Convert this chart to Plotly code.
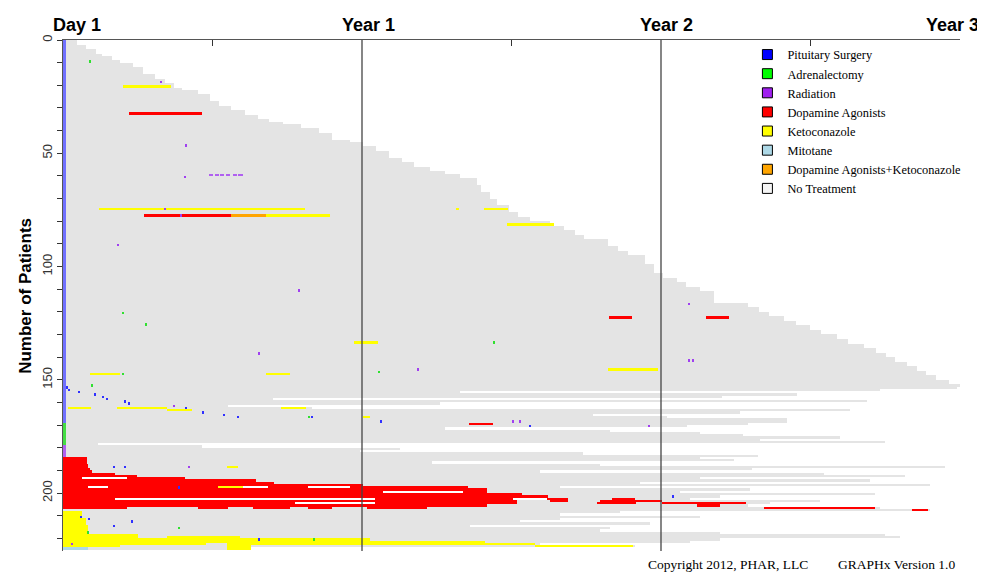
import plotly.graph_objects as go

# ---------------- data ----------------
# follow-up length (days) of each patient, row 0 at the top
followup_days = [
    17, 17, 28, 28, 40, 40, 48, 60, 60, 70,
    86, 86, 98, 98, 98, 112, 112, 125, 125, 135,
    135, 145, 165, 165, 180, 180, 180, 190, 190, 205,
    205, 222, 222, 238, 238, 252, 268, 290, 290, 312,
    312, 328, 328, 328, 350, 366, 366, 382, 382, 398,
    398, 398, 414, 414, 428, 428, 448, 448, 466, 485,
    485, 505, 505, 505, 510, 510, 510, 521, 521, 521,
    530, 530, 530, 544, 544, 544, 555, 555, 570, 570,
    595, 595, 612, 612, 625, 625, 636, 636, 665, 665,
    665, 677, 677, 690, 690, 710, 710, 710, 710, 722,
    722, 722, 722, 733, 733, 750, 750, 760, 760, 777,
    777, 795, 795, 795, 795, 795, 836, 836, 850, 850,
    862, 862, 880, 880, 895, 895, 912, 912, 925, 925,
    945, 945, 958, 958, 978, 978, 992, 992, 1005, 1005,
    1016, 1016, 1030, 1030, 1042, 1042, 1054, 1054, 1066, 1066,
    1082, 1082, 1095, 1091, 997, 485, 896, 804, 256, 981,
    460, 201, 304, 961, 826, 647, 737, 884, 884, 836,
    762, 466, 668, 778, 830, 948, 851, 1003, 43, 170,
    411, 363, 635, 848, 778, 819, 450, 656, 1077, 841,
    582, 929, 1028, 778, 985, 704, 1058, 607, 839, 753,
    991, 802, 765, 924, 863, 836, 997, 1058, 680, 607,
    778, 607, 558, 717, 497, 668, 656, 802, 1003, 1022,
    802, 765, 582, 698, 228,
]

# treatment episodes: (first_row, last_row, start_day, end_day)
pituitary_surgery = [(0, 168, 0, 4)]
adrenalectomy = [(169, 178, 0, 4)]
radiation = [
    (179, 183, 0, 4),
    (59, 59, 178, 183), (59, 59, 185, 190), (59, 59, 192, 197),
    (59, 59, 199, 204), (59, 59, 207, 212), (59, 59, 214, 220),
]
dopamine_agonists = [
    (32, 32, 81, 170), (77, 77, 99, 205),
    (122, 122, 666, 695), (122, 122, 785, 813), (169, 169, 496, 525),
    (184, 186, 0, 29), (187, 188, 0, 31), (189, 189, 0, 33), (190, 190, 0, 36),
    (191, 191, 0, 63), (192, 192, 0, 90),
    (193, 193, 0, 23), (193, 193, 78, 149),
    (194, 194, 0, 236), (195, 195, 0, 257), (196, 196, 0, 366),
    (197, 197, 0, 31), (197, 197, 55, 206), (197, 197, 250, 299), (197, 197, 350, 494),
    (198, 198, 0, 517),
    (199, 199, 0, 391), (199, 199, 488, 517),
    (200, 200, 0, 560), (201, 201, 0, 592),
    (202, 202, 0, 63), (202, 202, 381, 549), (202, 202, 591, 616), (202, 202, 670, 698),
    (203, 203, 0, 554), (203, 203, 594, 616), (203, 203, 656, 731),
    (204, 204, 0, 283), (204, 204, 381, 554), (204, 204, 652, 700), (204, 204, 731, 834),
    (205, 205, 0, 517), (205, 205, 774, 802),
    (206, 206, 0, 78), (206, 206, 165, 201), (206, 206, 232, 277), (206, 206, 299, 328),
    (206, 206, 371, 444), (206, 206, 856, 991),
    (207, 207, 1036, 1056),
]
ketoconazole = [
    (20, 20, 73, 132), (74, 74, 44, 295), (77, 77, 248, 326), (74, 74, 480, 484),
    (74, 74, 514, 543), (81, 81, 542, 599), (133, 133, 355, 385), (145, 145, 665, 726),
    (147, 147, 33, 70), (147, 147, 248, 277), (162, 162, 6, 34), (162, 162, 66, 127),
    (163, 163, 127, 158), (162, 162, 266, 297), (166, 166, 366, 375), (188, 188, 200, 214),
    (197, 197, 189, 220),
    (208, 210, 0, 23), (211, 213, 0, 28), (214, 217, 0, 31), (218, 218, 0, 92),
    (219, 219, 0, 92), (219, 219, 127, 216), (220, 220, 0, 375), (221, 221, 0, 515),
    (222, 222, 0, 175), (222, 222, 200, 576), (223, 223, 0, 70), (223, 223, 200, 230),
    (223, 223, 576, 696), (224, 224, 200, 229),
]
mitotane = [(224, 224, 0, 31)]
da_plus_keto = [(77, 77, 205, 248)]
no_treatment = [
    (193, 193, 23, 78), (197, 197, 31, 55), (197, 197, 206, 250), (197, 197, 299, 350),
    (199, 199, 391, 488), (202, 202, 63, 381), (202, 202, 549, 591), (204, 204, 283, 381),
]

# single-day events: (row, day)
pituitary_events = [
    (153, 4), (154, 6), (155, 18), (156, 38), (157, 48), (158, 52), (159, 74), (160, 79),
    (162, 149), (164, 170), (165, 195), (166, 212), (166, 303), (168, 387), (170, 569),
    (188, 61), (188, 74), (197, 140), (201, 743), (210, 21), (211, 31), (212, 83),
    (214, 61), (220, 238),
]
adrenalectomy_events = [
    (9, 32), (120, 72), (125, 100), (133, 525), (146, 385), (147, 72), (152, 34),
    (166, 299), (215, 140), (217, 29), (220, 305),
]
radiation_events = [
    (18, 118), (46, 149), (60, 148), (74, 123), (77, 143), (90, 66), (110, 287),
    (116, 763), (138, 238), (141, 763), (141, 768), (145, 432), (161, 134), (168, 548),
    (168, 557), (170, 714), (188, 153), (222, 10),
]

legend_names = ["Pituitary Surgery", "Adrenalectomy", "Radiation", "Dopamine Agonists",
                "Ketoconazole", "Mitotane", "Dopamine Agonists+Ketoconazole", "No Treatment"]
legend_colors = ["#0000FF", "#00FF00", "#A020F0", "#FF0000", "#FFFF00", "#ADD8E6",
                 "#FFA500", "#F5F5F5"]
axis_ticks_days = [0, 365, 730, 1095]
axis_tick_text = ["Day 1", "Year 1", "Year 2", "Year 3"]

# ---------------- style ----------------
GRAY = "#E4E4E4"
EVENT_DAYS = 2.5
EVENT_ROWS = 1.1
N_ROWS = len(followup_days)

fig = go.Figure()

fig.add_trace(go.Bar(
    orientation="h",
    y=[i + 0.5 for i in range(N_ROWS)], x=followup_days, base=[0] * N_ROWS,
    width=[1.0] * N_ROWS, marker=dict(color=GRAY, line=dict(width=0)),
    showlegend=False, hoverinfo="skip"))


def add_episodes(episodes, color):
    fig.add_trace(go.Bar(
        orientation="h",
        y=[(a + b + 1) / 2 for a, b, s, e in episodes],
        width=[b - a + 1 for a, b, s, e in episodes],
        base=[s for a, b, s, e in episodes],
        x=[e - s for a, b, s, e in episodes],
        marker=dict(color=color, line=dict(width=0)),
        showlegend=False, hoverinfo="skip"))


def add_events(events, color):
    fig.add_trace(go.Bar(
        orientation="h",
        y=[r + 0.5 for r, d in events],
        width=[EVENT_ROWS] * len(events),
        base=[d for r, d in events],
        x=[EVENT_DAYS] * len(events),
        marker=dict(color=color, line=dict(width=0)),
        showlegend=False, hoverinfo="skip"))


add_episodes(no_treatment, "#FFFFFF")
add_episodes(dopamine_agonists, legend_colors[3])
add_episodes(da_plus_keto, legend_colors[6])
add_episodes(ketoconazole, legend_colors[4])
add_episodes(mitotane, legend_colors[5])
add_episodes(pituitary_surgery, "#7070FF")
add_episodes(adrenalectomy, "#44DD44")
add_episodes(radiation, "#B060F0")
add_events(pituitary_events, "#3030FF")
add_events(adrenalectomy_events, "#30E030")
add_events(radiation_events, "#A040F0")

for name, color in zip(legend_names, legend_colors):
    fig.add_trace(go.Scatter(
        x=[None], y=[None], mode="markers", name=name,
        marker=dict(symbol="square", size=10, color=color,
                    line=dict(color="black", width=1))))

shapes = []
for d in axis_ticks_days[1:3]:
    shapes.append(dict(type="line", xref="x", yref="paper", x0=d, x1=d, y0=0, y1=1,
                       line=dict(color="#444444", width=1.3), layer="above"))

label_anchor = ["center", "center", "center", "right"]
label_shift = [14, 6, 5, 21]
annotations = []
for d, t, a, s in zip(axis_ticks_days, axis_tick_text, label_anchor, label_shift):
    annotations.append(dict(x=d, y=1, xref="x", yref="paper", text="<b>%s</b>" % t,
                            showarrow=False, xanchor=a, yanchor="bottom",
                            xshift=s, yshift=3,
                            font=dict(family="Liberation Sans", size=18, color="black")))
annotations.append(dict(x=-0.042, y=0.5, xref="paper", yref="paper",
                        xanchor="center", yanchor="middle",
                        text="<b>Number of Patients</b>", textangle=-90, showarrow=False,
                        font=dict(family="Liberation Sans", size=17, color="black")))
annotations.append(dict(x=0.650, y=-0.026, xref="paper", yref="paper", xanchor="left",
                        yanchor="middle", text="Copyright 2012, PHAR, LLC", showarrow=False,
                        font=dict(family="Liberation Serif", size=13.5, color="black")))
annotations.append(dict(x=0.862, y=-0.026, xref="paper", yref="paper", xanchor="left",
                        yanchor="middle", text="GRAPHx Version 1.0", showarrow=False,
                        font=dict(family="Liberation Serif", size=13.5, color="black")))

# the page places the figure 8 px from the window's top-left corner
fig.update_layout(
    width=977, height=564,
    margin=dict(l=55, r=25, t=32, b=21),
    plot_bgcolor="white", paper_bgcolor="white",
    barmode="overlay", bargap=0,
    shapes=shapes, annotations=annotations,
    showlegend=True,
    legend=dict(x=0.763, y=1.0, xanchor="left", yanchor="top",
                bgcolor="rgba(0,0,0,0)", tracegroupgap=0,
                font=dict(family="Liberation Serif", size=12.4, color="black")),
    xaxis=dict(range=[0, 1095], side="top", showline=True, linecolor="#555555",
               linewidth=1, ticks="inside", tickvals=[182.5, 547.5, 912.5, 1095],
               ticklen=6, tickcolor="#333333", showticklabels=False,
               showgrid=False, zeroline=False, automargin=False),
    yaxis=dict(range=[225.6, 0], showline=True, linecolor="#555555", linewidth=1,
               ticks="outside", tickvals=[0, 50, 100, 150, 200], ticklen=5,
               tickcolor="#333333", tickangle=-90,
               minor=dict(tickvals=list(range(0, 230, 10)), ticks="outside", ticklen=5,
                          tickcolor="#333333"),
               tickfont=dict(family="Liberation Sans", size=13, color="#333333"),
               showgrid=False, zeroline=False, automargin=False),
)

fig.write_html("out.html")
